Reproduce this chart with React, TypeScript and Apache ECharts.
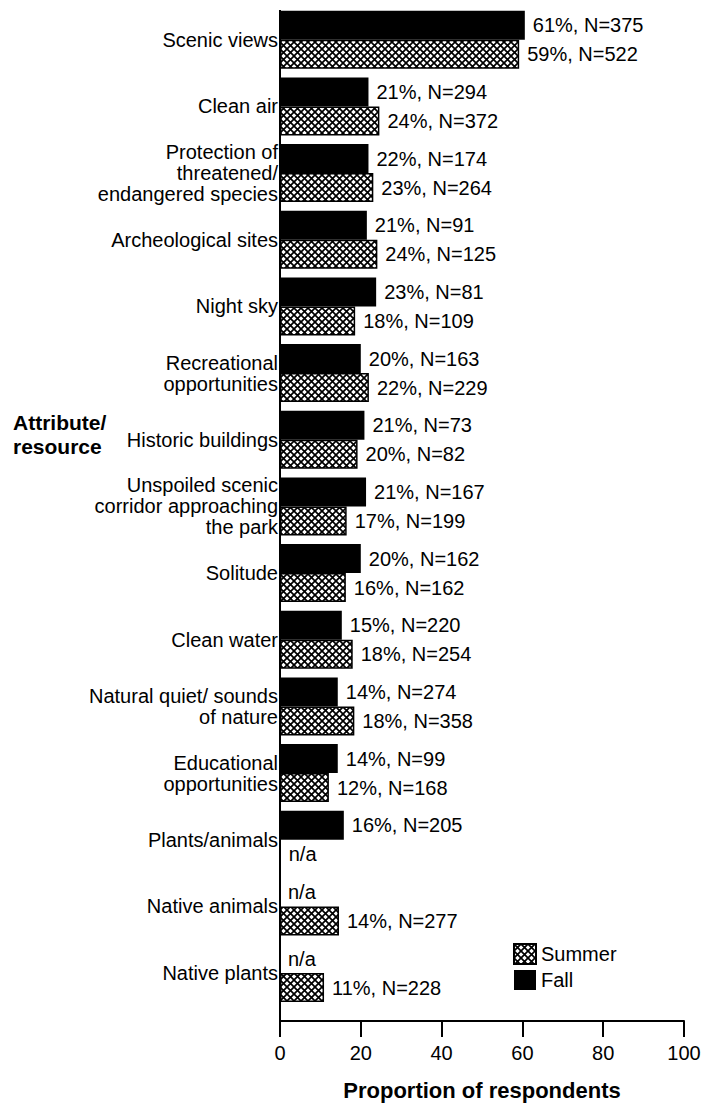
import React, { useEffect, useRef } from "react";
import * as echarts from "echarts";

const categories = [
  "Scenic views",
  "Clean air",
  "Protection of\nthreatened/\nendangered species",
  "Archeological sites",
  "Night sky",
  "Recreational\nopportunities",
  "Historic buildings",
  "Unspoiled scenic\ncorridor approaching\nthe park",
  "Solitude",
  "Clean water",
  "Natural quiet/ sounds\nof nature",
  "Educational\nopportunities",
  "Plants/animals",
  "Native animals",
  "Native plants",
];

const fallValues: (number | null)[] = [60.6, 21.9, 21.9, 21.5, 23.8, 20.0, 20.9, 21.3, 20.0, 15.3, 14.3, 14.3, 15.8, null, null];
const summerValues: (number | null)[] = [59.2, 24.6, 23.1, 24.1, 18.6, 22.0, 19.2, 16.5, 16.3, 18.0, 18.4, 12.1, null, 14.6, 10.9];
const fallPct: (number | null)[] = [61, 21, 22, 21, 23, 20, 21, 21, 20, 15, 14, 14, 16, null, null];
const fallN: (number | null)[] = [375, 294, 174, 91, 81, 163, 73, 167, 162, 220, 274, 99, 205, null, null];
const summerPct: (number | null)[] = [59, 24, 23, 24, 18, 22, 20, 17, 16, 18, 18, 12, null, 14, 11];
const summerN: (number | null)[] = [522, 372, 264, 125, 109, 229, 82, 199, 162, 254, 358, 168, null, 277, 228];
const xMin = 0;
const xMax = 100;
const xStep = 20;

const FONT = "'Liberation Sans', Arial, sans-serif";

const hatchSvg =
  "<svg xmlns='http://www.w3.org/2000/svg' width='7' height='7'><rect width='7' height='7' fill='white'/><path d='M-1,-1L8,8M8,-1L-1,8' stroke='black' stroke-width='1.7'/></svg>";
const hatchUrl = "data:image/svg+xml;charset=utf-8," + encodeURIComponent(hatchSvg);

function toData(vals: (number | null)[]) {
  return vals.map((v) =>
    v == null ? { value: 0, label: { formatter: "n/a" } } : v
  );
}

export default function App() {
  const ref = useRef<HTMLDivElement>(null);
  useEffect(() => {
    if (!ref.current) return;
    const chart = echarts.init(ref.current, undefined, { renderer: "svg" });
    const hatch: any = { image: hatchUrl, repeat: "repeat", imageWidth: 7, imageHeight: 7 };
    const labelBase = {
      show: true,
      position: "right",
      distance: 8,
      color: "#000",
      fontSize: 20,
      fontFamily: FONT,
    };
    chart.setOption({
      animation: false,
      textStyle: { fontFamily: FONT },
      grid: { left: 280, width: 404, top: 6.4, height: 1004, containLabel: false },
      legend: {
        data: ["Summer", "Fall"],
        orient: "vertical",
        left: 508,
        top: 938,
        itemWidth: 22,
        itemHeight: 20,
        itemGap: 5,
        icon: "rect",
        textStyle: { fontSize: 20, color: "#000", fontFamily: FONT },
      },
      xAxis: {
        type: "value",
        min: xMin,
        max: xMax,
        interval: xStep,
        offset: 14.6,
        axisLine: { show: true, lineStyle: { color: "#000", width: 2 } },
        axisTick: { show: true, length: 16, lineStyle: { color: "#000", width: 2 } },
        axisLabel: { fontSize: 20, color: "#000", margin: 22, fontFamily: FONT },
        splitLine: { show: false },
        name: "Proportion of respondents",
        nameLocation: "middle",
        nameGap: 58,
        nameTextStyle: { fontSize: 22, fontWeight: "bold", color: "#000", fontFamily: FONT },
      },
      yAxis: {
        type: "category",
        inverse: true,
        data: categories,
        axisLine: { show: false },
        axisTick: { show: false },
        axisLabel: {
          fontSize: 20,
          lineHeight: 21,
          color: "#000",
          margin: 2,
          padding: [7, 0, 0, 0],
          fontFamily: FONT,
        },
      },
      graphic: [
        {
          type: "line",
          shape: { x1: 280, y1: 10, x2: 280, y2: 1026 },
          style: { stroke: "#000", lineWidth: 2 },
          z: 100,
        },
        {
          type: "text",
          left: 13,
          top: 410,
          style: {
            text: "Attribute/\nresource",
            font: "bold 21px " + FONT,
            lineHeight: 24,
            fill: "#000",
          },
        },
      ],
      series: [
        {
          name: "Fall",
          type: "bar",
          data: toData(fallValues),
          barWidth: 29,
          barGap: "0%",
          itemStyle: { color: "#000" },
          label: {
            ...labelBase,
            formatter: (p: any) => `${fallPct[p.dataIndex]}%, N=${fallN[p.dataIndex]}`,
          },
        },
        {
          name: "Summer",
          type: "bar",
          data: toData(summerValues),
          barWidth: 29,
          barGap: "0%",
          itemStyle: { color: hatch, borderColor: "#000", borderWidth: 1.5 },
          label: {
            ...labelBase,
            formatter: (p: any) => `${summerPct[p.dataIndex]}%, N=${summerN[p.dataIndex]}`,
          },
        },
      ],
    });
    return () => chart.dispose();
  }, []);
  return (
    <div
      ref={ref}
      style={{ position: "absolute", left: 0, top: 0, width: 710, height: 1106, background: "#fff" }}
    />
  );
}
